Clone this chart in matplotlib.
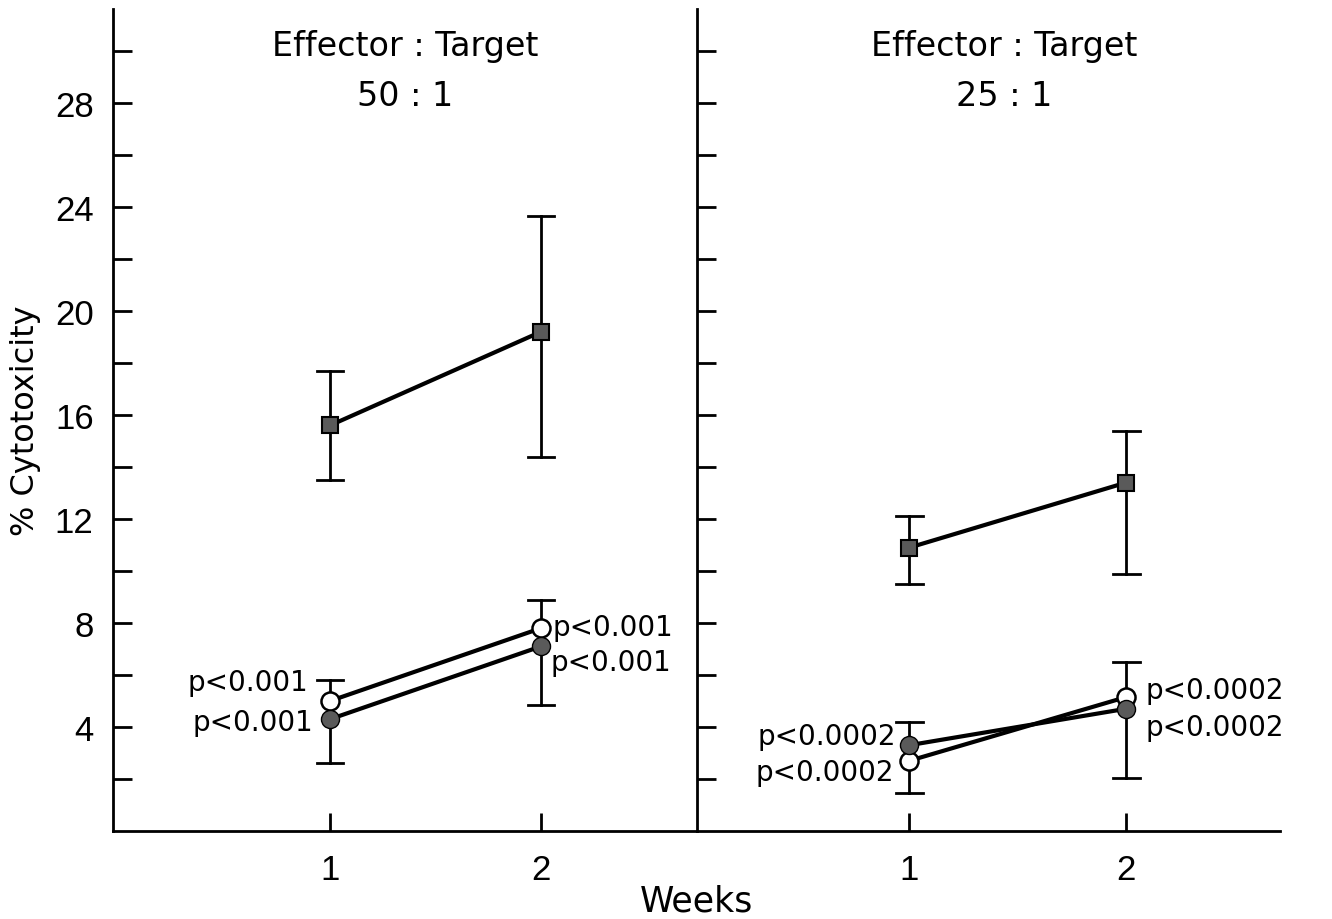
import matplotlib.pyplot as plt
import numpy as np

plt.rcParams['font.family'] = ['DejaVu Sans']

# % cytotoxicity at weeks 1 and 2, mean and error bar ends
weeks = [1, 2]

# Effector : Target 50 : 1
sq50 = [15.6, 19.2]
sq50_lo = [13.5, 14.4]
sq50_hi = [17.7, 23.65]
open50 = [5.0, 7.8]
open50_hi = [5.8, 8.9]
fill50 = [4.3, 7.1]
fill50_lo = [2.6, 4.85]

# Effector : Target 25 : 1
sq25 = [10.9, 13.4]
sq25_lo = [9.5, 9.9]
sq25_hi = [12.1, 15.4]
open25 = [2.7, 5.15]
open25_lo = [1.45, 6.5]
fill25 = [3.3, 4.7]
fill25_hi = [4.2, 2.05]

p50 = ["p<0.001", "p<0.001"]
p25 = ["p<0.0002", "p<0.0002"]

fig = plt.figure(figsize=(13.32, 9.2), dpi=100)
ax1 = fig.add_axes([0.0848, 0.0957, 0.4385, 0.893])
ax2 = fig.add_axes([0.5233, 0.0957, 0.4377, 0.893])

lw = 3
gray = '#5a5a5a'
numfont = 'Liberation Sans'


def err(ax, x, lo, hi):
    ax.plot([x, x], [lo, hi], color='black', lw=2, zorder=1)
    for v in (lo, hi):
        ax.plot([x - 0.063, x + 0.063], [v, v], color='black', lw=2, zorder=1)


def panel(ax, sq, sq_lo, sq_hi, op, fi, xlim):
    ax.plot(weeks, sq, color='black', lw=lw, zorder=2)
    ax.plot(weeks, op, color='black', lw=lw, zorder=2)
    ax.plot(weeks, fi, color='black', lw=lw, zorder=2)
    for i in range(2):
        err(ax, weeks[i], sq_lo[i], sq_hi[i])
    ax.plot(weeks, sq, 's', color=gray, mec='black', mew=1.5, ms=12, zorder=3)
    ax.plot(weeks, op, 'o', color='white', mec='black', mew=1.8, ms=13, zorder=3)
    ax.plot(weeks, fi, 'o', color=gray, mec='black', mew=1, ms=13, zorder=4)
    ax.set_xlim(*xlim)
    ax.set_ylim(0, 31.6)
    for s in ('top', 'right'):
        ax.spines[s].set_visible(False)
    for s in ('left', 'bottom'):
        ax.spines[s].set_linewidth(2)
    ax.set_xticks(weeks)
    ax.set_yticks(np.arange(4, 29, 4))
    ax.set_yticks(np.arange(2, 31, 4), minor=True)
    ax.tick_params(axis='both', which='both', direction='in', width=2,
                   labelfontfamily=numfont)
    ax.tick_params(axis='y', which='both', length=14)
    ax.tick_params(axis='x', length=13, labelsize=25, pad=16)


panel(ax1, sq50, sq50_lo, sq50_hi, open50, fill50, (-0.03, 2.74))
err(ax1, 1, fill50_lo[0], open50_hi[0])
err(ax1, 2, fill50_lo[1], open50_hi[1])
ax1.tick_params(axis='y', labelsize=25, pad=14)

panel(ax2, sq25, sq25_lo, sq25_hi, open25, fill25, (0.02, 2.71))
err(ax2, 1, open25_lo[0], fill25_hi[0])
err(ax2, 2, fill25_hi[1], open25_lo[1])
ax2.tick_params(axis='y', labelleft=False)

ax1.set_ylabel('% Cytotoxicity', fontsize=23, labelpad=10)
fig.text(0.523, 0.002, 'Weeks', fontsize=25, ha='center', va='bottom')

kw = dict(fontsize=24, ha='center', va='center')
ax1.text(1.354, 30.2, 'Effector : Target', **kw)
ax1.text(1.354, 28.3, '50 : 1', **kw)
ax2.text(1.435, 30.2, 'Effector : Target', **kw)
ax2.text(1.435, 28.3, '25 : 1', **kw)

pk = dict(fontsize=20, textcoords='offset points', va='center_baseline')
ax1.annotate(p50[0], (1, open50[0]), xytext=(-16, 16), ha='right', **pk)
ax1.annotate(p50[1], (1, fill50[0]), xytext=(-12, 0), ha='right', **pk)
ax1.annotate(p50[0], (2, open50[1]), xytext=(8, 3), ha='left', **pk)
ax1.annotate(p50[1], (2, fill50[1]), xytext=(7, -9), ha='left', **pk)

ax2.annotate(p25[0], (1, fill25[0]), xytext=(-10, 9), ha='right', **pk)
ax2.annotate(p25[1], (1, open25[0]), xytext=(-11, -6), ha='right', **pk)
ax2.annotate(p25[0], (2, open25[1]), xytext=(14, 7), ha='left', **pk)
ax2.annotate(p25[1], (2, fill25[1]), xytext=(14, -11), ha='left', **pk)

fig.savefig('out.png', dpi=100)
